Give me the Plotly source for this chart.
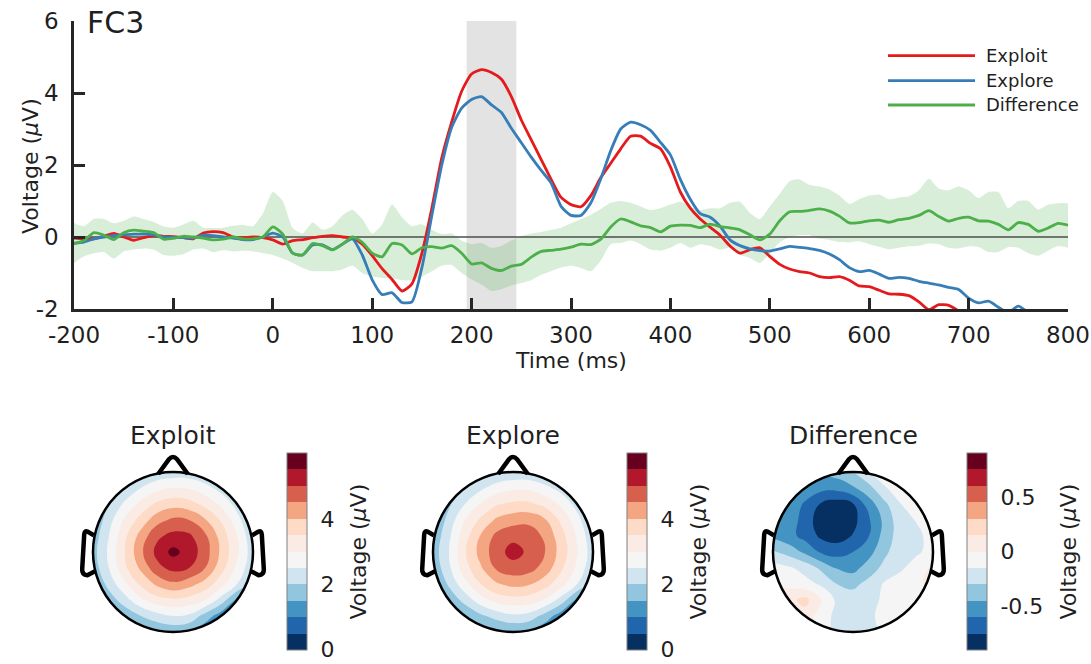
import numpy as np
import plotly.graph_objects as go

W, H = 1091, 664

# ---------------- ERP time courses at FC3 ----------------
TIME_MS = list(range(-200, 801, 10))

EXPLOIT_UV = [
    -0.03, -0.05, -0.05, 0.02, 0.10, 0.00, -0.09, -0.02, 0.04, 0.02,
    0.01, -0.02, -0.05, 0.11, 0.15, 0.12, 0.00, -0.02, 0.00, -0.02,
    -0.08, -0.20, -0.10, -0.07, -0.02, 0.02, 0.04, 0.00, -0.03, -0.20,
    -0.52, -0.88, -1.18, -1.50, -1.30, -0.45, 0.80, 2.20, 3.20, 4.05,
    4.53, 4.65, 4.57, 4.38, 3.90, 3.25, 2.70, 2.15, 1.60, 1.10,
    0.90, 0.84, 1.15, 1.65, 2.05, 2.45, 2.80, 2.80, 2.60, 2.45,
    1.95, 1.25, 0.80, 0.50, 0.27, 0.05, -0.25, -0.45, -0.35, -0.30,
    -0.54, -0.76, -0.89, -0.96, -1.00, -1.10, -1.13, -1.10, -1.20, -1.36,
    -1.38, -1.48, -1.58, -1.59, -1.63, -1.80, -2.02, -1.88, -1.90, -2.05,
    -2.20, -2.30, -2.35, -2.40, -2.45, -2.50, -2.55, -2.60, -2.65, -2.70,
    -2.75,
]

EXPLORE_UV = [
    -0.17, -0.14, -0.05, 0.00, 0.04, 0.06, 0.08, 0.08, 0.06, 0.00,
    -0.01, -0.02, -0.03, 0.05, 0.04, 0.00, -0.03, -0.07, -0.07, 0.00,
    0.11, 0.00, -0.45, -0.50, -0.22, -0.22, -0.35, -0.20, -0.05, -0.50,
    -1.19, -1.60, -1.55, -1.82, -1.80, -0.85, 0.60, 2.00, 3.05, 3.58,
    3.82, 3.90, 3.67, 3.46, 3.02, 2.62, 2.22, 1.85, 1.50, 0.85,
    0.60, 0.60, 0.95, 1.62, 2.40, 3.00, 3.19, 3.12, 2.96, 2.63,
    2.28, 1.60, 1.05, 0.65, 0.55, 0.30, -0.08, -0.24, -0.33, -0.38,
    -0.39, -0.33, -0.26, -0.29, -0.32, -0.37, -0.47, -0.63, -0.85, -0.96,
    -0.93, -1.03, -1.15, -1.12, -1.15, -1.23, -1.28, -1.33, -1.40, -1.46,
    -1.70, -1.83, -1.78, -1.95, -2.10, -1.92, -2.10, -2.30, -2.40, -2.50,
    -2.60,
]

DIFFERENCE_UV = [
    -0.19, -0.10, 0.12, 0.05, -0.07, 0.12, 0.19, 0.16, 0.12, -0.06,
    -0.04, 0.02, 0.00, -0.03, -0.08, -0.06, 0.00, -0.05, -0.05, 0.00,
    0.28, 0.08, -0.45, -0.50, -0.18, -0.24, -0.36, -0.20, 0.00, -0.15,
    -0.45, -0.55, -0.18, -0.22, -0.47, -0.30, -0.27, -0.31, -0.24, -0.45,
    -0.75, -0.72, -0.87, -0.93, -0.81, -0.76, -0.56, -0.40, -0.37, -0.34,
    -0.28, -0.20, -0.21, -0.06, 0.28, 0.50, 0.42, 0.31, 0.26, 0.14,
    0.30, 0.33, 0.32, 0.26, 0.36, 0.29, 0.25, 0.20, 0.06, -0.08,
    0.08, 0.45, 0.70, 0.71, 0.74, 0.78, 0.72, 0.58, 0.39, 0.40,
    0.45, 0.47, 0.41, 0.48, 0.52, 0.60, 0.73, 0.57, 0.44, 0.52,
    0.55, 0.45, 0.44, 0.35, 0.20, 0.40, 0.35, 0.16, 0.25, 0.38,
    0.33,
]

DIFFERENCE_CI_UPPER = [
    0.39, 0.30, 0.50, 0.50, 0.38, 0.45, 0.57, 0.50, 0.42, 0.30,
    0.26, 0.35, 0.45, 0.26, 0.25, 0.26, 0.31, 0.33, 0.30, 0.65,
    1.25, 1.00, 0.25, 0.10, 0.40, 0.20, 0.30, 0.60, 0.76, 0.50,
    0.10, 0.35, 0.90, 0.55, 0.30, 0.35, 0.20, 0.08, 0.10, -0.10,
    -0.20, -0.17, -0.30, -0.25, -0.10, 0.03, 0.10, 0.14, 0.20, 0.26,
    0.38, 0.50, 0.62, 0.78, 0.95, 1.00, 0.95, 0.85, 0.75, 0.80,
    0.90, 0.98, 0.85, 0.75, 0.80, 0.80, 0.95, 0.98, 0.67, 0.50,
    0.85, 1.20, 1.55, 1.60, 1.45, 1.40, 1.32, 1.15, 0.92, 1.05,
    1.15, 1.18, 1.05, 1.10, 1.13, 1.30, 1.62, 1.35, 1.30, 1.40,
    1.30, 1.08, 1.25, 1.25, 0.80, 1.00, 1.00, 0.76, 0.90, 0.94,
    0.94,
]

DIFFERENCE_CI_LOWER = [
    -0.72, -0.54, -0.45, -0.42, -0.60, -0.40, -0.35, -0.32, -0.35, -0.50,
    -0.52, -0.48, -0.35, -0.32, -0.42, -0.37, -0.40, -0.38, -0.40, -0.45,
    -0.50, -0.60, -0.72, -0.86, -0.95, -0.95, -0.95, -0.90, -0.80, -1.00,
    -1.10, -1.14, -1.14, -1.20, -1.20, -1.10, -0.95, -0.80, -0.78, -1.00,
    -1.18, -1.32, -1.50, -1.45, -1.35, -1.28, -1.20, -1.05, -0.95, -0.85,
    -0.80, -0.86, -0.95, -0.65, -0.20, -0.17, -0.10, -0.20, -0.35, -0.38,
    -0.30, -0.17, -0.30, -0.20, -0.25, -0.35, -0.30, -0.50, -0.58, -0.72,
    -0.45, -0.15, 0.00, 0.05, 0.05, -0.05, -0.08, -0.14, -0.15, -0.12,
    -0.20, -0.27, -0.34, -0.30, -0.26, -0.24, -0.18, -0.20, -0.30, -0.32,
    -0.26, -0.28, -0.42, -0.42, -0.28, -0.30, -0.45, -0.52, -0.38, -0.25,
    -0.30,
]

WINDOW_MS = (195, 245)

X_TICKS = [-200, -100, 0, 100, 200, 300, 400, 500, 600, 700, 800]
X_TICK_TEXT = ["-200", "-100", "0", "100", "200", "300", "400", "500", "600", "700", "800"]
Y_TICKS = [-2, 0, 2, 4, 6]
Y_TICK_TEXT = ["-2", "0", "2", "4", "6"]

SERIES_NAMES = ["Exploit", "Explore", "Difference"]
SERIES_COLORS = ["#e41a1c", "#377eb8", "#4daf4a"]

# ---------------- scalp maps (grid over the head, front at top) ----------------
TOPO_X = [-1.0, -0.8, -0.6, -0.4, -0.2, 0.0, 0.2, 0.4, 0.6, 0.8, 1.0]
TOPO_Y = [1.0, 0.8, 0.6, 0.4, 0.2, 0.0, -0.2, -0.4, -0.6, -0.8, -1.0]

TOPO_EXPLOIT = [
    [0.7, 1.0, 1.4, 1.8, 2.1, 2.2, 2.2, 2.0, 1.6, 1.2, 0.8],
    [0.9, 1.5, 2.1, 2.5, 2.85, 3.0, 2.95, 2.7, 2.3, 1.8, 1.2],
    [1.2, 2.0, 2.6, 3.15, 3.6, 3.8, 3.7, 3.35, 2.9, 2.3, 1.6],
    [1.5, 2.3, 3.1, 3.7, 4.3, 4.6, 4.5, 4.05, 3.45, 2.7, 1.9],
    [1.7, 2.5, 3.4, 4.2, 4.9, 5.15, 5.1, 4.6, 3.8, 3.0, 2.1],
    [1.8, 2.6, 3.5, 4.4, 5.15, 5.65, 5.3, 4.75, 3.9, 3.1, 2.2],
    [1.7, 2.5, 3.4, 4.1, 4.85, 5.15, 5.0, 4.5, 3.7, 2.9, 2.1],
    [1.4, 2.2, 2.9, 3.6, 4.1, 4.4, 4.2, 3.8, 3.2, 2.5, 1.8],
    [1.1, 1.7, 2.3, 2.9, 3.3, 3.4, 3.3, 3.0, 2.3, 1.4, 1.0],
    [0.8, 1.2, 1.6, 2.0, 2.3, 2.5, 2.4, 1.8, 1.2, 0.8, 0.6],
    [0.5, 0.7, 1.0, 1.3, 1.5, 1.6, 1.5, 1.1, 0.7, 0.5, 0.5],
]

TOPO_EXPLORE = [
    [0.7, 1.0, 1.3, 1.7, 2.0, 2.1, 2.1, 1.9, 1.6, 1.2, 0.8],
    [0.9, 1.4, 2.0, 2.4, 2.75, 2.9, 2.9, 2.65, 2.3, 1.8, 1.2],
    [1.1, 1.9, 2.5, 3.05, 3.45, 3.6, 3.6, 3.35, 2.9, 2.3, 1.6],
    [1.4, 2.2, 3.0, 3.6, 4.1, 4.3, 4.35, 4.05, 3.4, 2.7, 1.9],
    [1.6, 2.4, 3.3, 4.05, 4.65, 4.85, 4.8, 4.4, 3.7, 2.95, 2.1],
    [1.7, 2.5, 3.45, 4.2, 4.8, 5.2, 4.9, 4.5, 3.8, 3.05, 2.2],
    [1.6, 2.4, 3.3, 3.95, 4.6, 4.8, 4.7, 4.3, 3.6, 2.9, 2.1],
    [1.3, 2.1, 2.85, 3.5, 3.95, 4.15, 4.05, 3.7, 3.2, 2.5, 1.8],
    [1.0, 1.6, 2.2, 2.8, 3.2, 3.3, 3.25, 2.95, 2.3, 1.4, 1.0],
    [0.7, 1.1, 1.5, 1.9, 2.2, 2.4, 2.3, 1.8, 1.2, 0.8, 0.6],
    [0.5, 0.7, 0.9, 1.2, 1.4, 1.5, 1.4, 1.1, 0.7, 0.5, 0.5],
]

TOPO_DIFFERENCE = [
    [-0.30, -0.35, -0.40, -0.40, -0.38, -0.30, -0.15, -0.08, -0.05, -0.05, -0.05],
    [-0.35, -0.40, -0.45, -0.55, -0.55, -0.47, -0.35, -0.16, -0.08, -0.05, -0.05],
    [-0.40, -0.45, -0.63, -0.76, -0.82, -0.76, -0.52, -0.33, -0.15, -0.08, -0.05],
    [-0.42, -0.52, -0.66, -0.84, -0.88, -0.80, -0.62, -0.40, -0.20, -0.14, -0.08],
    [-0.48, -0.55, -0.65, -0.78, -0.82, -0.74, -0.60, -0.38, -0.22, -0.18, -0.10],
    [-0.28, -0.36, -0.48, -0.62, -0.66, -0.60, -0.50, -0.33, -0.20, -0.17, -0.10],
    [-0.08, -0.13, -0.20, -0.33, -0.46, -0.50, -0.38, -0.25, -0.17, -0.08, 0.03],
    [0.02, -0.04, -0.10, -0.17, -0.30, -0.34, -0.25, -0.13, -0.08, -0.02, 0.03],
    [0.10, 0.10, 0.20, 0.00, -0.18, -0.22, -0.20, -0.12, -0.08, -0.06, -0.03],
    [0.05, 0.08, 0.08, -0.06, -0.20, -0.21, -0.18, -0.10, -0.08, -0.05, -0.05],
    [0.00, 0.00, 0.00, -0.08, -0.20, -0.22, -0.20, -0.12, -0.08, -0.05, -0.05],
]

# diverging palette, 12 bands from low (blue) to high (red)
BAND_COLORS = [
    "#053061", "#2166ac", "#4393c3", "#92c5de", "#d1e5f0", "#f5f5f5",
    "#faebe4", "#fddbc7", "#f4a582", "#d6604d", "#b2182b", "#67001f",
]

TOPO_PANELS = [
    # title, grid, colour-scale minimum, maximum, ticks, tick labels
    ("Exploit", TOPO_EXPLOIT, 0.0, 6.0, [0, 2, 4], ["0", "2", "4"]),
    ("Explore", TOPO_EXPLORE, 0.0, 6.0, [0, 2, 4], ["0", "2", "4"]),
    ("Difference", TOPO_DIFFERENCE, -0.9, 0.9, [-0.5, 0, 0.5], ["-0.5", "0", "0.5"]),
]

FONT = "DejaVu Sans"
INK = "#1f1f1f"
AXIS_INK = "#262626"


def px_x(p):
    return p / W


def px_y(p):
    return 1 - p / H


fig = go.Figure()

# confidence band of the difference wave
fig.add_trace(go.Scatter(
    x=TIME_MS, y=DIFFERENCE_CI_LOWER, mode="lines", line=dict(width=0, shape="spline", smoothing=0.6),
    hoverinfo="skip", showlegend=False,
))
fig.add_trace(go.Scatter(
    x=TIME_MS, y=DIFFERENCE_CI_UPPER, mode="lines", line=dict(width=0, shape="spline", smoothing=0.6),
    fill="tonexty", fillcolor="rgba(77,175,74,0.21)", hoverinfo="skip", showlegend=False,
))
# zero reference line
fig.add_trace(go.Scatter(
    x=[TIME_MS[0], TIME_MS[-1]], y=[0, 0], mode="lines",
    line=dict(color="#4d4d4d", width=1.3), hoverinfo="skip", showlegend=False,
))
for name, color, values in zip(SERIES_NAMES, SERIES_COLORS, [EXPLOIT_UV, EXPLORE_UV, DIFFERENCE_UV]):
    fig.add_trace(go.Scatter(
        x=TIME_MS, y=values, mode="lines", name=name,
        line=dict(color=color, width=2.8, shape="spline", smoothing=0.6),
        showlegend=False,
    ))

shapes = [
    dict(type="rect", xref="x", yref="y", x0=WINDOW_MS[0], x1=WINDOW_MS[1], y0=-2, y1=6,
         fillcolor="#e3e3e3", line=dict(width=0), layer="below"),
]
annotations = [
    dict(text="FC3", x=px_x(85), y=px_y(23), xref="paper", yref="paper", xanchor="left",
         yanchor="middle", showarrow=False, font=dict(family=FONT, size=30, color=INK)),
    dict(text="Time (ms)", x=px_x(571), y=px_y(360), xref="paper", yref="paper",
         xanchor="center", yanchor="middle", showarrow=False,
         font=dict(family=FONT, size=22, color=INK)),
    dict(text="Voltage (<i>μ</i>V)", x=px_x(30), y=px_y(166), xref="paper", yref="paper",
         xanchor="center", yanchor="middle", showarrow=False, textangle=-90,
         font=dict(family=FONT, size=22, color=INK)),
]

# hand-placed legend with long line samples
legend_rows_y = [55.7, 80.7, 105.0]
for name, color, ly in zip(SERIES_NAMES, SERIES_COLORS, legend_rows_y):
    shapes.append(dict(type="line", xref="paper", yref="paper", x0=px_x(888), x1=px_x(975),
                       y0=px_y(ly), y1=px_y(ly), line=dict(color=color, width=2.8)))
    annotations.append(dict(text=name, x=px_x(984), y=px_y(ly), xref="paper", yref="paper",
                            xanchor="left", yanchor="middle", showarrow=False,
                            font=dict(family=FONT, size=18, color=INK)))

# ---------------- scalp maps ----------------
row_shift = -5  # keep the bottom tick labels inside the page
head_centers_px = [173, 513, 853]
head_cy_px = 557 + row_shift
cbar_cy_px = 556.5 + row_shift
title_y_px = 441 + row_shift
unit_px = 80.0
half_range = 1.25
cbar_left_px = [287, 627, 967]
cbar_title_px = [358, 698, 1068]

theta = np.linspace(0, 2 * np.pi, 181)
hole = " ".join(
    ("M" if i == 0 else "L") + f" {np.cos(t):.4f} {np.sin(t):.4f}" for i, t in enumerate(theta)
) + " Z"
outer = "M -2 -2 L 2 -2 L 2 2 L -2 2 Z"
mask_path = outer + " " + hole

nose_path = "M -0.185 0.975 L -0.05 1.16 Q 0 1.215 0.05 1.16 L 0.185 0.975"
left_ear = ("M -0.99 0.21 L -1.07 0.255 Q -1.105 0.27 -1.11 0.22 L -1.135 -0.21 "
            "Q -1.14 -0.285 -1.07 -0.29 L -0.975 -0.24")
right_ear = ("M 0.99 0.21 L 1.07 0.255 Q 1.105 0.27 1.11 0.22 L 1.135 -0.21 "
             "Q 1.14 -0.285 1.07 -0.29 L 0.975 -0.24")

n_bands = len(BAND_COLORS)
# contour fill picks band k at position k/(n-1); the colour bar uses hard steps
contour_scale = [[i / (n_bands - 1), c] for i, c in enumerate(BAND_COLORS)]
stepped_scale = []
for i, c in enumerate(BAND_COLORS):
    stepped_scale.append([i / n_bands, c])
    stepped_scale.append([(i + 1) / n_bands, c])

grid_y_up = TOPO_Y[::-1]
layout_axes = {}
for k, (title, grid, vmin, vmax, tvals, ttext) in enumerate(TOPO_PANELS):
    idx = k + 2
    xa, ya = f"x{idx}", f"y{idx}"
    cx = head_centers_px[k]
    span = half_range * unit_px
    step = (vmax - vmin) / n_bands
    pad = (vmax - vmin) * 0.002
    layout_axes[f"xaxis{idx}"] = dict(
        domain=[px_x(cx - span), px_x(cx + span)], range=[-half_range, half_range],
        visible=False, fixedrange=True, anchor=ya, automargin=False,
    )
    layout_axes[f"yaxis{idx}"] = dict(
        domain=[px_y(head_cy_px + span), px_y(head_cy_px - span)], range=[-half_range, half_range],
        visible=False, fixedrange=True, anchor=xa, automargin=False,
    )
    fig.add_trace(go.Contour(
        x=TOPO_X, y=grid_y_up, z=grid[::-1], xaxis=xa, yaxis=ya,
        autocontour=False,
        contours=dict(start=vmin + step, end=vmax - step, size=step,
                      coloring="fill", showlines=False),
        line=dict(width=0, smoothing=1.3),
        colorscale=contour_scale, showscale=False,
        hoverinfo="skip",
    ))
    # colour bar carrier: points lie outside the visible range
    fig.add_trace(go.Scatter(
        x=[9, 9], y=[9, 9], xaxis=xa, yaxis=ya, mode="markers",
        marker=dict(
            color=[vmin, vmax], cmin=vmin - pad, cmax=vmax + pad, colorscale=stepped_scale, size=1,
            showscale=True,
            colorbar=dict(
                x=px_x(cbar_left_px[k]), xanchor="left", xpad=0, ypad=0,
                y=px_y(cbar_cy_px), yanchor="middle", len=197, lenmode="pixels",
                thickness=20, thicknessmode="pixels",
                outlinewidth=1, outlinecolor="#808080",
                tickmode="array", tickvals=tvals, ticktext=ttext,
                ticks="outside", ticklen=9, tickcolor="rgba(0,0,0,0)",
                ticklabeloverflow="allow",
                tickfont=dict(family=FONT, size=22, color=INK),
            ),
        ),
        hoverinfo="skip", showlegend=False,
    ))
    annotations.append(dict(text="Voltage (<i>μ</i>V)", x=px_x(cbar_title_px[k]), y=px_y(cbar_cy_px),
                            xref="paper", yref="paper", xanchor="center", yanchor="middle",
                            textangle=-90, showarrow=False,
                            font=dict(family=FONT, size=22, color=INK)))
    shapes.append(dict(type="path", xref=xa, yref=ya, path=mask_path, fillcolor="white",
                       fillrule="evenodd", line=dict(width=0), layer="above"))
    shapes.append(dict(type="circle", xref=xa, yref=ya, x0=-1, x1=1, y0=-1, y1=1,
                       line=dict(color="black", width=2.5), layer="above"))
    for p in (nose_path, left_ear, right_ear):
        shapes.append(dict(type="path", xref=xa, yref=ya, path=p,
                           line=dict(color="black", width=4.5), layer="above"))
    annotations.append(dict(text=title, x=px_x(cx), y=px_y(title_y_px), xref="paper", yref="paper",
                            xanchor="center", yanchor="middle", showarrow=False,
                            font=dict(family=FONT, size=25, color=INK)))

fig.update_layout(
    width=W, height=H,
    margin=dict(l=0, r=0, t=0, b=0, autoexpand=False),
    paper_bgcolor="white", plot_bgcolor="white",
    showlegend=False,
    font=dict(family=FONT, color=INK),
    xaxis=dict(
        domain=[px_x(74), px_x(1068)], range=[-200, 800],
        tickmode="array", tickvals=X_TICKS, ticktext=X_TICK_TEXT,
        ticks="inside", ticklen=11, tickwidth=2.5, tickcolor=AXIS_INK,
        showline=True, linewidth=2.5, linecolor=AXIS_INK,
        showgrid=False, zeroline=False, ticklabelstandoff=4,
        tickfont=dict(family=FONT, size=23, color=INK),
        anchor="y", automargin=False,
    ),
    yaxis=dict(
        domain=[px_y(309), px_y(21)], range=[-2, 6],
        tickmode="array", tickvals=Y_TICKS, ticktext=Y_TICK_TEXT,
        ticks="inside", ticklen=11, tickwidth=2.5, tickcolor=AXIS_INK,
        showline=True, linewidth=2.5, linecolor=AXIS_INK,
        showgrid=False, zeroline=False, ticklabelstandoff=8,
        tickfont=dict(family=FONT, size=23, color=INK),
        anchor="x", automargin=False,
    ),
    shapes=shapes,
    annotations=annotations,
    **layout_axes,
)

fig.write_html("out.html")
